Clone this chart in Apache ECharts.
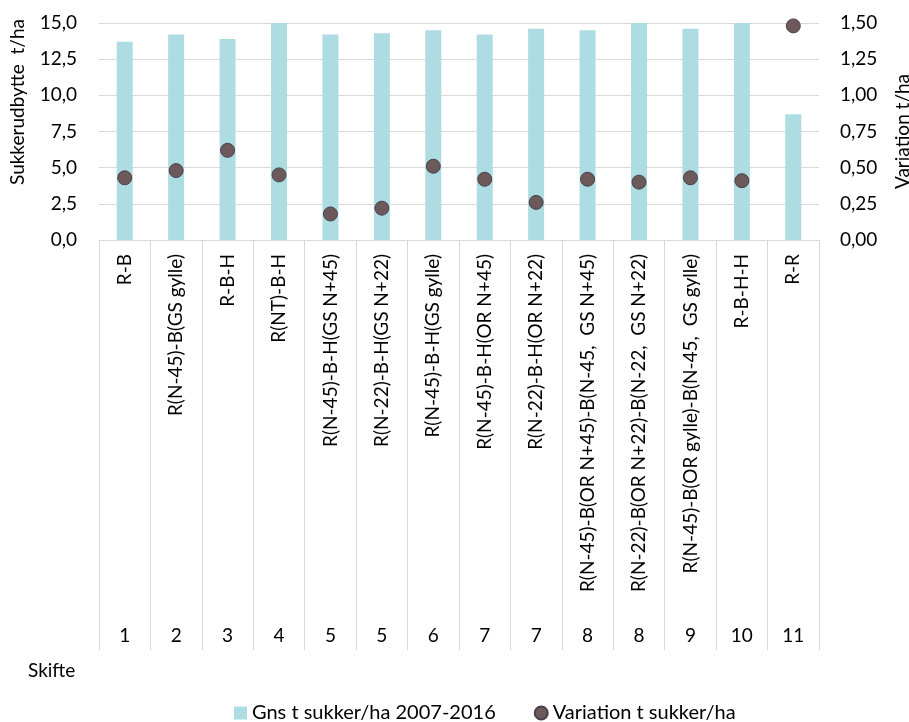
<!doctype html>
<html>
    <head>
        <meta charset="utf-8">
        <title>Sukkerudbytte</title>
        <style>
            html, body { margin: 0; padding: 0; background: #fff; }
            #main { width: 909px; height: 722px; }
        </style>
    </head>
    <body>
        <div id="main"></div>
        <script src="https://cdn.jsdelivr.net/npm/echarts@6/dist/echarts.min.js"></script>
        <script>
            var rotations = [
                'R-B', 'R(N-45)-B(GS gylle)', 'R-B-H', 'R(NT)-B-H',
                'R(N-45)-B-H(GS N+45)', 'R(N-22)-B-H(GS N+22)', 'R(N-45)-B-H(GS gylle)',
                'R(N-45)-B-H(OR N+45)', 'R(N-22)-B-H(OR N+22)',
                'R(N-45)-B(OR N+45)-B(N-45,  GS N+45)', 'R(N-22)-B(OR N+22)-B(N-22,  GS N+22)',
                'R(N-45)-B(OR gylle)-B(N-45,  GS gylle)', 'R-B-H-H', 'R-R'
            ];
            var skifte = ['1', '2', '3', '4', '5', '5', '6', '7', '7', '8', '8', '9', '10', '11'];
            var yieldAvg = [13.7, 14.2, 13.9, 15.0, 14.2, 14.3, 14.5, 14.2, 14.6, 14.5, 15.0, 14.6, 15.0, 8.7];
            var variation = [0.43, 0.48, 0.62, 0.45, 0.18, 0.22, 0.51, 0.42, 0.26, 0.42, 0.40, 0.43, 0.41, 1.48];

            var font = 'Lato, "Open Sans", sans-serif';
            var fs = 19;
            var gridColor = '#d9d9d9';

            var chart = echarts.init(document.getElementById('main'));

            chart.setOption({
                animation: false,
                textStyle: { fontFamily: font },
                grid: { left: 99, right: 90, top: 23, bottom: 482, containLabel: false, outerBoundsMode: 'none' },
                title: {
                    text: 'Skifte',
                    left: 23,
                    top: 656,
                    textStyle: { fontFamily: font, fontSize: fs, fontWeight: 'normal', color: '#000' }
                },
                graphic: [{
                    type: 'text',
                    x: 18,
                    y: 102,
                    rotation: Math.PI / 2,
                    style: {
                        text: 'Sukkerudbytte  t/ha',
                        font: fs + 'px ' + font,
                        fill: '#000',
                        align: 'center',
                        verticalAlign: 'middle'
                    }
                }],
                legend: {
                    left: 229,
                    top: 698,
                    itemWidth: 13,
                    itemHeight: 13,
                    itemGap: 38,
                    textStyle: { fontFamily: font, fontSize: 20, color: '#000' },
                    data: [
                        { name: 'Gns t sukker/ha 2007-2016', icon: 'rect' },
                        { name: 'Variation t sukker/ha', icon: 'circle' }
                    ]
                },
                xAxis: [{
                    type: 'category',
                    data: rotations,
                    position: 'bottom',
                    axisLine: { lineStyle: { color: gridColor } },
                    axisTick: { show: true, interval: 0, length: 410, lineStyle: { color: gridColor } },
                    axisLabel: {
                        interval: 0,
                        rotate: 90,
                        margin: 14,
                        fontFamily: font,
                        fontSize: fs,
                        color: '#000'
                    }
                }, {
                    type: 'category',
                    data: skifte,
                    position: 'bottom',
                    axisLine: { show: false },
                    axisTick: { show: false },
                    axisLabel: {
                        interval: 0,
                        margin: 386,
                        fontFamily: font,
                        fontSize: fs,
                        color: '#000'
                    }
                }],
                yAxis: [{
                    type: 'value',
                    min: 0,
                    max: 15,
                    interval: 2.5,
                    axisLine: { show: false },
                    axisTick: { show: false },
                    splitLine: { lineStyle: { color: gridColor } },
                    axisLabel: {
                        margin: 22,
                        fontFamily: font,
                        fontSize: fs,
                        color: '#000',
                        formatter: function (v) { return v.toFixed(1).replace('.', ','); }
                    }
                }, {
                    type: 'value',
                    min: 0,
                    max: 1.5,
                    interval: 0.25,
                    name: 'Variation t/ha',
                    nameLocation: 'middle',
                    nameRotate: 90,
                    nameGap: 74,
                    nameTextStyle: { fontFamily: font, fontSize: fs, color: '#000' },
                    axisLine: { show: false },
                    axisTick: { show: false },
                    splitLine: { show: false },
                    axisLabel: {
                        margin: 21,
                        fontFamily: font,
                        fontSize: fs,
                        color: '#000',
                        formatter: function (v) { return v.toFixed(2).replace('.', ','); }
                    }
                }],
                series: [{
                    name: 'Gns t sukker/ha 2007-2016',
                    type: 'bar',
                    xAxisIndex: 0,
                    yAxisIndex: 0,
                    barWidth: 16,
                    data: yieldAvg,
                    itemStyle: { color: '#addce3' }
                }, {
                    name: 'Variation t sukker/ha',
                    type: 'scatter',
                    xAxisIndex: 0,
                    yAxisIndex: 1,
                    symbolSize: 14,
                    data: variation,
                    itemStyle: { color: '#6b5a59', borderColor: '#4a3f4c', borderWidth: 1, opacity: 1 }
                }]
            });

            window.addEventListener('resize', function () {
                chart.resize();
            });
        </script>
    </body>
</html>
